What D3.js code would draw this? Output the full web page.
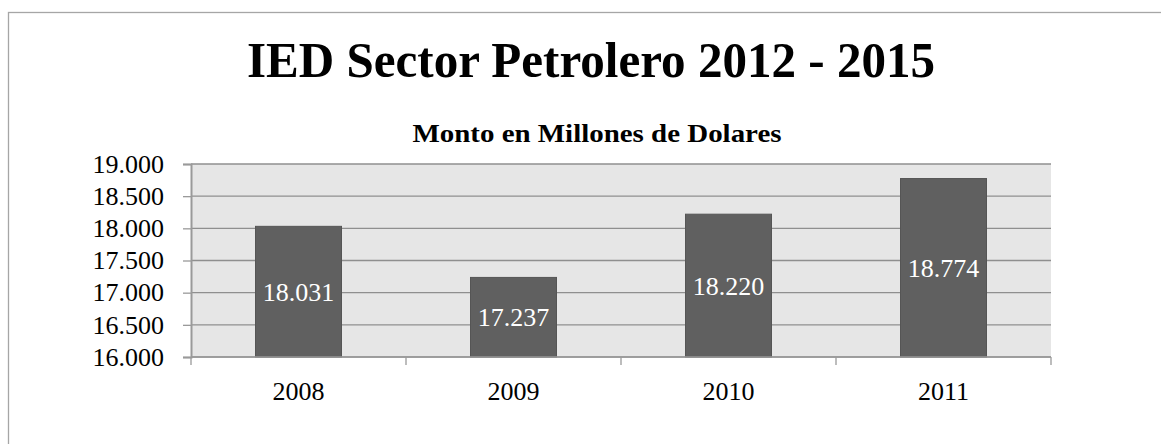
<!DOCTYPE html>
<html>
<head>
<meta charset="utf-8">
<script src="https://cdn.jsdelivr.net/npm/d3@7"></script>
<style>
  html, body { margin: 0; padding: 0; background: #ffffff; }
  svg { display: block; }
</style>
</head>
<body>
<svg id="chart" width="1161" height="444"></svg>
<script>
// Chart data
const categories = ["2008", "2009", "2010", "2011"];
const values = [18031, 17237, 18220, 18774];
const yTicks = [16000, 16500, 17000, 17500, 18000, 18500, 19000];
const titleText = "IED Sector Petrolero 2012 - 2015";
const subtitleText = "Monto en Millones de Dolares";

const FONT = "'Liberation Serif', 'DejaVu Serif', serif";
const svg = d3.select("#chart");
const W = 1161, H = 444;

// Plot area
const plot = { left: 191, right: 1051, top: 164, bottom: 357 };

const fmt = v => d3.format(",.0f")(v).replace(/,/g, ".");

// Outer chart frame
svg.append("rect")
  .attr("x", 8.5).attr("y", 12.5)
  .attr("width", W + 20).attr("height", H + 20)
  .attr("fill", "#ffffff")
  .attr("stroke", "#a6a6a6").attr("stroke-width", 1.3);

// Title
svg.append("text")
  .attr("x", 591).attr("y", 77)
  .attr("text-anchor", "middle")
  .style("font-family", FONT)
  .style("font-weight", "bold")
  .style("font-size", "50px")
  .attr("fill", "#000")
  .attr("textLength", 688).attr("lengthAdjust", "spacingAndGlyphs")
  .text(titleText);

// Subtitle
svg.append("text")
  .attr("x", 597).attr("y", 142)
  .attr("text-anchor", "middle")
  .style("font-family", FONT)
  .style("font-weight", "bold")
  .style("font-size", "26px")
  .attr("fill", "#000")
  .attr("textLength", 369).attr("lengthAdjust", "spacingAndGlyphs")
  .text(subtitleText);

// Scales
const x = d3.scaleBand()
  .domain(categories)
  .range([plot.left, plot.right])
  .paddingInner(0.6).paddingOuter(0.3);

const xCat = d3.scaleBand().domain(categories).range([plot.left, plot.right]);

const y = d3.scaleLinear()
  .domain([16000, 19000])
  .range([plot.bottom, plot.top]);

// Plot background
svg.append("rect")
  .attr("x", plot.left).attr("y", plot.top)
  .attr("width", plot.right - plot.left)
  .attr("height", plot.bottom - plot.top)
  .attr("fill", "#e6e6e6");

// Horizontal gridlines
svg.append("g")
  .selectAll("line")
  .data(yTicks)
  .join("line")
  .attr("x1", plot.left).attr("x2", plot.right)
  .attr("y1", d => y(d)).attr("y2", d => y(d))
  .attr("stroke", "#8f8f8f").attr("stroke-width", 1.3);

// Bars
svg.append("g")
  .selectAll("rect")
  .data(values)
  .join("rect")
  .attr("x", (d, i) => x(categories[i]))
  .attr("width", x.bandwidth())
  .attr("y", d => y(d))
  .attr("height", d => y(16000) - y(d))
  .attr("fill", "#606060")
  .attr("stroke", "#555555").attr("stroke-width", 1);

// Value labels inside bars
svg.append("g")
  .selectAll("text")
  .data(values)
  .join("text")
  .attr("x", (d, i) => x(categories[i]) + x.bandwidth() / 2)
  .attr("y", d => (y(d) + y(16000)) / 2)
  .attr("dy", "0.35em")
  .attr("text-anchor", "middle")
  .style("font-family", FONT)
  .style("font-size", "26px")
  .attr("fill", "#ffffff")
  .text(d => fmt(d));

// Y axis
const yAxis = d3.axisLeft(y)
  .tickValues(yTicks)
  .tickSize(8)
  .tickPadding(19)
  .tickFormat(fmt);
const gy = svg.append("g")
  .attr("transform", `translate(${plot.left},0)`)
  .call(yAxis);
gy.select(".domain").attr("stroke", "#9a9a9a").attr("stroke-width", 2);
gy.selectAll(".tick line").attr("stroke", "#9a9a9a").attr("stroke-width", 1.3);
gy.selectAll(".tick text")
  .style("font-family", FONT)
  .style("font-size", "26px")
  .attr("fill", "#000");

// X axis with category boundary ticks
const gx = svg.append("g")
  .attr("transform", `translate(0,${plot.bottom})`);
gx.append("line")
  .attr("x1", plot.left).attr("x2", plot.right)
  .attr("stroke", "#9a9a9a").attr("stroke-width", 1.5);
const bounds = categories.map(c => xCat(c)).concat([plot.right]);
gx.selectAll("line.tk")
  .data(bounds)
  .join("line")
  .attr("class", "tk")
  .attr("x1", d => d).attr("x2", d => d)
  .attr("y1", 0).attr("y2", 8)
  .attr("stroke", "#9a9a9a").attr("stroke-width", 1.3);
gx.selectAll("text")
  .data(categories)
  .join("text")
  .attr("x", d => xCat(d) + xCat.bandwidth() / 2)
  .attr("y", 43)
  .attr("text-anchor", "middle")
  .style("font-family", FONT)
  .style("font-size", "26px")
  .attr("fill", "#000")
  .text(d => d);
</script>
</body>
</html>
